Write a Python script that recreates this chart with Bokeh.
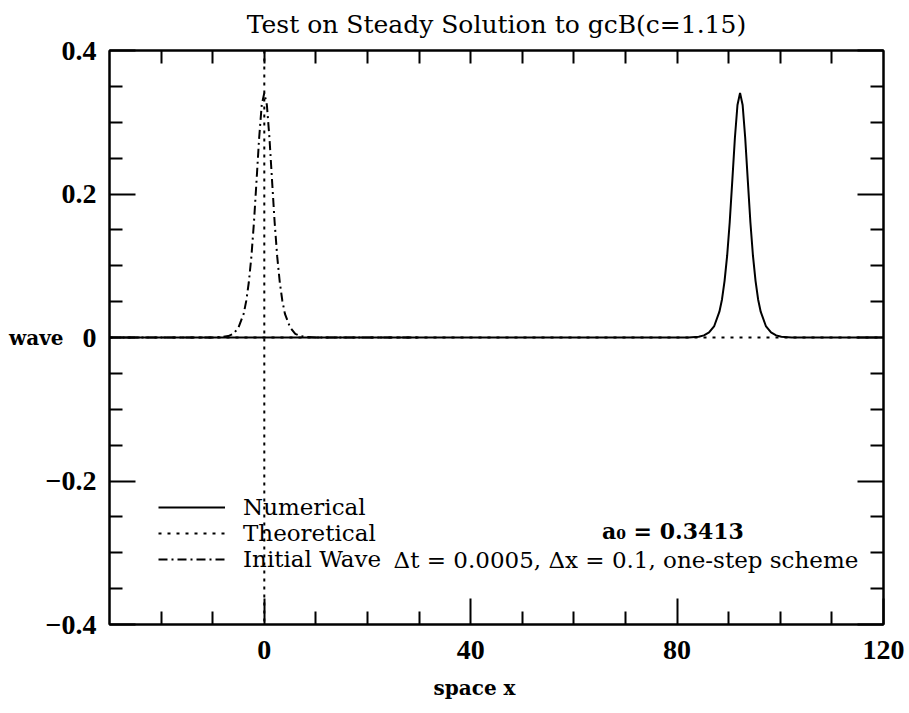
from bokeh.plotting import figure
from bokeh.models import (ColumnDataSource, Range1d, LinearAxis, FixedTicker,
                          CustomJSTickFormatter, Label, Legend, LegendItem, Span,
                          Title)
from bokeh.embed import file_html
from bokeh.resources import INLINE

# ---------------- data ----------------
init_x = [-30, -10, -8, -7, -6, -5, -4, -3.5, -3, -2.5, -2, -1.5, -1, -0.5, 0,
          0.5, 1, 1.5, 2, 2.5, 3, 3.5, 4, 5, 6, 7, 8, 10, 30]
init_y = [0, 0, 0.001, 0.002, 0.005, 0.014, 0.033, 0.051, 0.077, 0.113, 0.161,
          0.219, 0.278, 0.324, 0.341, 0.324, 0.278, 0.219, 0.161, 0.113, 0.077,
          0.051, 0.033, 0.014, 0.005, 0.002, 0.001, 0, 0]

num_x = [-30, 80, 82.2, 84.2, 85.2, 86.2, 87.2, 88.2, 88.7, 89.2, 89.7, 90.2,
         90.7, 91.2, 91.7, 92.2, 92.7, 93.2, 93.7, 94.2, 94.7, 95.2, 95.7, 96.2,
         97.2, 98.2, 99.2, 100.2, 102.2, 120]
num_y = [0, 0, 0, 0.001, 0.003, 0.007, 0.016, 0.036, 0.053, 0.079, 0.114, 0.161,
         0.219, 0.278, 0.324, 0.341, 0.324, 0.278, 0.219, 0.161, 0.114, 0.079,
         0.053, 0.036, 0.016, 0.007, 0.003, 0.001, 0, 0]

theo_x = [-30, 120]
theo_y = [0, 0]

x_major = [0, 40, 80, 120]
x_minor = [-20, -10, 10, 20, 30, 50, 60, 70, 90, 100, 110]
x_top = [-20, -10, 0, 10, 20, 30, 40, 50, 60, 70, 80, 90, 100, 110]
y_major = [-0.4, -0.2, 0, 0.2, 0.4]
y_minor = [-0.35, -0.3, -0.25, -0.15, -0.1, -0.05, 0.05, 0.1, 0.15, 0.25, 0.3, 0.35]

title_text = "Test on Steady Solution to gcB(c=1.15)"
x_label = "space x"
y_label = "wave"
labels = ["Numerical", "Theoretical", "Initial Wave"]
note_a0 = "a\u2080 = 0.3413"
note_run = "\u0394t = 0.0005,  \u0394x = 0.1, one-step scheme"

# ---------------- figure ----------------
p = figure(width=909, height=713, output_backend="svg", toolbar_location=None,
           x_range=Range1d(-30, 120), y_range=Range1d(-0.4, 0.4),
           x_axis_type=None, y_axis_type=None,
           min_border_left=109, min_border_right=26,
           min_border_top=50, min_border_bottom=89,
           title=title_text)
p.xgrid.grid_line_color = None
p.ygrid.grid_line_color = None
p.outline_line_color = "black"
p.outline_line_width = 2
p.background_fill_color = "white"
p.border_fill_color = "white"

p.title.align = "center"
p.title.vertical_align = "top"
p.title.text_font = "DejaVu Serif"
p.title.text_font_style = "normal"
p.title.text_font_size = "25px"
p.title.text_color = "black"
p.title.standoff = 19

TICK_FONT = "Liberation Serif"
BLANK = CustomJSTickFormatter(code="return '';")

def style_axis(ax, major_in, minor_in):
    ax.axis_line_color = "black"
    ax.axis_line_width = 2
    ax.major_tick_line_width = 2
    ax.minor_tick_line_width = 2
    ax.major_tick_in = major_in
    ax.major_tick_out = 0
    ax.minor_tick_in = minor_in
    ax.minor_tick_out = 0
    ax.major_label_text_font = TICK_FONT
    ax.major_label_text_font_style = "bold"
    ax.major_label_text_font_size = "28px"
    ax.major_label_text_color = "black"

# bottom axis
xb = LinearAxis(ticker=FixedTicker(ticks=x_major, minor_ticks=x_minor))
style_axis(xb, 26, 13)
xb.major_label_standoff = 16
p.add_layout(xb, "below")

# x axis title, slightly left of centre as in the reference
xt_title = Title(text=x_label, align="left", offset=324, standoff=24,
                 text_font="DejaVu Serif", text_font_style="bold",
                 text_font_size="20px", text_color="black")
p.add_layout(xt_title, "below")

# left axis
yl = LinearAxis(ticker=FixedTicker(ticks=y_major, minor_ticks=y_minor))
style_axis(yl, 26, 13)
yl.major_label_standoff = 13
yl.formatter = CustomJSTickFormatter(code="""
    if (Math.abs(tick) < 1e-9) { return "0"; }
    const s = Math.abs(tick).toFixed(1);
    return tick < 0 ? "\\u2212" + s : s;
""")
yl.axis_label = y_label
yl.axis_label_text_font = "DejaVu Serif"
yl.axis_label_text_font_style = "bold"
yl.axis_label_text_font_size = "20px"
yl.axis_label_text_color = "black"
yl.axis_label_standoff = -21
try:
    yl.axis_label_orientation = "horizontal"
except Exception:
    pass
p.add_layout(yl, "left")

# right axis (ticks only)
yr = LinearAxis(ticker=FixedTicker(ticks=y_major, minor_ticks=y_minor))
style_axis(yr, 26, 13)
yr.formatter = BLANK
yr.major_label_standoff = 0
p.add_layout(yr, "right")

# top axis (ticks only)
xt = LinearAxis(ticker=FixedTicker(ticks=x_top, minor_ticks=[]))
style_axis(xt, 13, 13)
xt.formatter = BLANK
xt.major_label_standoff = 0
p.add_layout(xt, "above")

# ---------------- lines ----------------
src_theo = ColumnDataSource(dict(x=theo_x, y=theo_y))
src_init = ColumnDataSource(dict(x=init_x, y=init_y))
src_num = ColumnDataSource(dict(x=num_x, y=num_y))

r_theo = p.line("x", "y", source=src_theo, line_color="black", line_width=2,
                line_dash="3 6")
r_init = p.line("x", "y", source=src_init, line_color="black", line_width=2,
                line_dash="9 4 2 4")
r_num = p.line("x", "y", source=src_num, line_color="black", line_width=2)

p.add_layout(Span(location=0, dimension="height", line_color="black",
                  line_width=2, line_dash="3 5"))

# ---------------- legend ----------------
legend = Legend(items=[LegendItem(label=labels[0], renderers=[r_num]),
                       LegendItem(label=labels[1], renderers=[r_theo]),
                       LegendItem(label=labels[2], renderers=[r_init])],
                location=(49, 52), orientation="vertical",
                background_fill_alpha=0, border_line_alpha=0,
                padding=0, margin=0, spacing=0,
                glyph_width=67, glyph_height=26, label_height=26,
                label_standoff=18,
                label_text_font="DejaVu Serif", label_text_font_size="23px",
                label_text_color="black")
p.add_layout(legend)

# ---------------- texts inside the frame ----------------
p.add_layout(Label(x=79.2, y=-0.269, text=note_a0,
                   text_align="center", text_baseline="middle",
                   text_font="DejaVu Serif", text_font_style="bold",
                   text_font_size="22px", text_color="black"))
p.add_layout(Label(x=25.05, y=-0.3095, text=note_run,
                   text_align="left", text_baseline="middle",
                   text_font="DejaVu Serif", text_font_size="23px",
                   text_color="black"))

open("out.html", "w").write(file_html(p, INLINE))
